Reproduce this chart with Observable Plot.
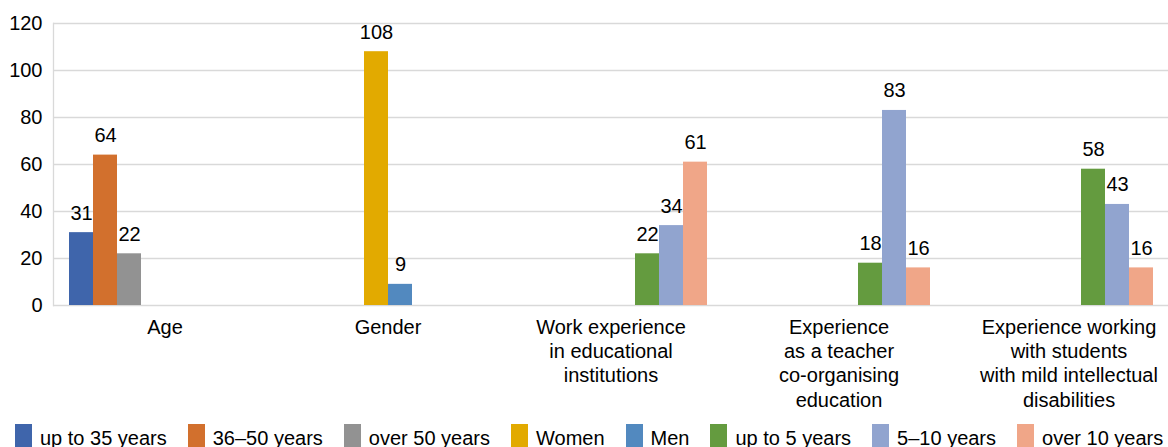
<!DOCTYPE html>
<html>
<head>
<meta charset="utf-8">
<script src="https://cdn.jsdelivr.net/npm/d3@7"></script>
<script src="https://cdn.jsdelivr.net/npm/@observablehq/plot@0.6"></script>
<style>
  html, body { margin: 0; padding: 0; background: #fff; overflow: hidden; }
  body { width: 1168px; height: 447px; font-family: "Liberation Sans", Arial, sans-serif; }
  #legend { display: flex; padding-left: 15px; margin-top: 11px; font-size: 20px; line-height: 24px; color: #000; white-space: nowrap; }
  .item { display: flex; align-items: flex-start; margin-right: 21px; }
  .key { width: 17px; height: 24px; margin-right: 8px; margin-top: -2px; }
</style>
</head>
<body>
<div id="chart"></div>
<div id="legend"></div>
<script>
// Respondent characteristics, grouped by category
const categories = [
  "Age",
  "Gender",
  "Work experience\nin educational\ninstitutions",
  "Experience\nas a teacher\nco-organising\neducation",
  "Experience working\nwith students\nwith mild intellectual\ndisabilities"
];

const series = [
  "up to 35 years", "36–50 years", "over 50 years",
  "Women", "Men",
  "up to 5 years", "5–10 years", "over 10 years"
];

const colors = ["#3F65AB", "#D2702D", "#929292", "#E2AA00", "#5289BF", "#649B3F", "#91A4CF", "#F0A688"];

const ageSeries = ["up to 35 years", "36–50 years", "over 50 years"];
const ageValues = [31, 64, 22];
const genderSeries = ["Women", "Men"];
const genderValues = [108, 9];
const experienceSeries = ["up to 5 years", "5–10 years", "over 10 years"];
const workValues = [22, 34, 61];
const teacherValues = [18, 83, 16];
const disabilityValues = [58, 43, 16];

const yTicks = [0, 20, 40, 60, 80, 100, 120];

// small horizontal nudges for the category captions (px)
const captionNudge = [0, 0, 0, 5, 12];

const groups = [
  [categories[0], ageSeries, ageValues],
  [categories[1], genderSeries, genderValues],
  [categories[2], experienceSeries, workValues],
  [categories[3], experienceSeries, teacherValues],
  [categories[4], experienceSeries, disabilityValues]
];
const rows = groups.flatMap(([category, names, values]) =>
  names.map((s, i) => ({category, series: s, value: values[i]}))
);

const gridColor = "#d9d9d9";

const captions = categories.map((c, i) =>
  Plot.text([c], {
    fx: d => d, text: d => d,
    frameAnchor: "bottom", lineAnchor: "top",
    dy: 10.7, dx: captionNudge[i],
    lineHeight: 1.22, fontSize: 20, fill: "#000"
  })
);

const chart = Plot.plot({
  width: 1168,
  height: 415,
  marginLeft: 53,
  marginRight: 0,
  marginTop: 23,
  marginBottom: 110,
  style: {fontFamily: "'Liberation Sans', Arial, sans-serif", fontSize: "20px", color: "#000", background: "#fff"},
  fx: {domain: categories, padding: 0, label: null, axis: null},
  x: {domain: series, paddingInner: 0, paddingOuter: 0.595, axis: null},
  y: {domain: [0, 120], label: null},
  color: {domain: series, range: colors},
  marks: [
    Plot.gridY(yTicks, {stroke: gridColor, strokeOpacity: 1, strokeWidth: 1.3}),
    Plot.frame({anchor: "left", facetAnchor: "left", stroke: gridColor, strokeWidth: 1.3}),
    Plot.axisY(yTicks, {tickSize: 0, tickPadding: 11, fontSize: 20, label: null}),
    ...captions,
    Plot.barY(rows, {fx: "category", x: "series", y: "value", fill: "series"}),
    Plot.text(rows, {fx: "category", x: "series", y: "value", text: d => String(d.value), lineAnchor: "bottom", dy: -13, fontSize: 20, fill: "#000"})
  ]
});
document.getElementById("chart").appendChild(chart);

// Legend row beneath the chart
const legend = d3.select("#legend");
series.forEach((s, i) => {
  const item = legend.append("div").attr("class", "item");
  item.append("div").attr("class", "key").style("background", colors[i]);
  item.append("span").text(s);
});
</script>
</body>
</html>
